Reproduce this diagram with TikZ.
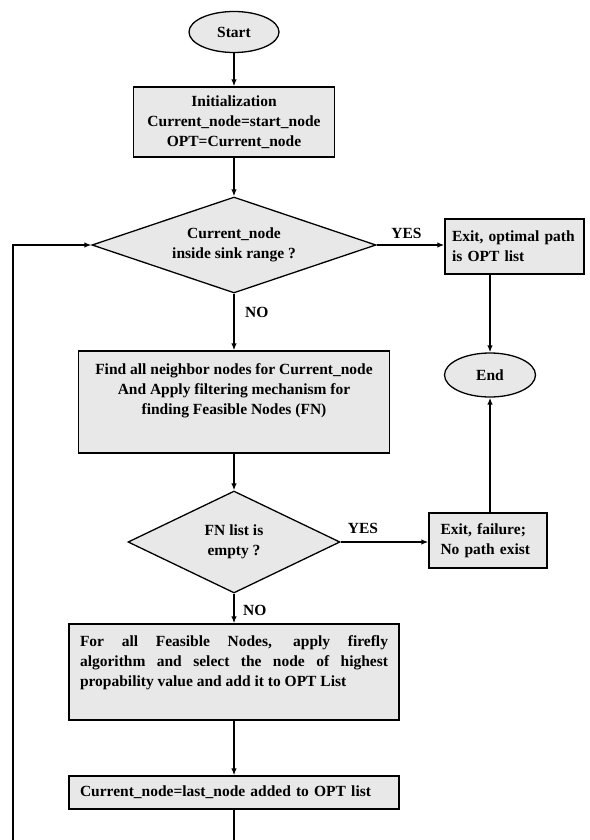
\documentclass[tikz,border=0pt]{standalone}
\usepackage{fontspec}
\setmainfont{Liberation Serif}
\usetikzlibrary{shapes.geometric,arrows.meta}
\definecolor{boxfill}{RGB}{232,232,232}
\begin{document}
\begin{tikzpicture}[x=1pt,y=-1pt,
  every node/.style={font=\fontsize{15.5}{20}\selectfont\bfseries, inner sep=0pt},
  flowbox/.style={draw=black, line width=1.3pt, fill=boxfill, rectangle},
  decision/.style={draw=black, line width=1.3pt, fill=boxfill, diamond},
  terminal/.style={draw=black, line width=1.3pt, fill=boxfill, ellipse},
  conn/.style={line width=1.6pt, -{Latex[length=7pt,width=5.5pt]}},
  plain/.style={line width=1.6pt}
]
\useasboundingbox (0,0) rectangle (589,840);
% nodes
\node[terminal, minimum width=90pt, minimum height=41pt] (start) at (234,32) {Start};
\node[flowbox, minimum width=201pt, minimum height=70pt, align=center] (init) at (234,122)
  {Initialization\\Current\_node=start\_node\\OPT=Current\_node};
\node[decision, aspect=2.96, minimum width=284pt, minimum height=96pt, align=center] (d1) at (234,245)
  {Current\_node\\inside sink range ?};
\node[flowbox, minimum width=139pt, minimum height=55pt, text width=125pt, align=left] (e1) at (514.5,246.5)
  {\hyphenpenalty=10000 Exit, optimal path\\is OPT list};
\node[terminal, minimum width=91pt, minimum height=44pt] (end) at (490,375) {End};
\node[flowbox, minimum width=311pt, minimum height=102pt] (b2) at (234,402) {};
\node[anchor=north, align=center] (b2t) at ([yshift=-13pt]b2.north)
  {Find all neighbor nodes for Current\_node\\And Apply filtering mechanism for\\finding Feasible Nodes (FN)};
\node[decision, aspect=2.08, minimum width=212pt, minimum height=102pt, align=center] (d2) at (234,542)
  {FN list is\\empty ?};
\node[flowbox, minimum width=118pt, minimum height=55pt, text width=95pt, align=left] (ef) at (488,540.5)
  {Exit, failure;\\No path exist};
\node[flowbox, minimum width=330pt, minimum height=96pt] (b3) at (234,672) {};
\node[anchor=north, text width=308pt, align=justify] (b3t) at ([yshift=-12.5pt]b3.north)
  {\tolerance=10000\hyphenpenalty=10000 For all Feasible Nodes, apply firefly\linebreak algorithm and select the node of highest\linebreak propability value and add it to OPT List};
\node[flowbox, minimum width=330pt, minimum height=33pt, text width=308pt, align=left] (b4) at (234,792.5)
  {Current\_node=last\_node added to OPT list};
% labels
\node (yes1) at (406.5,233) {YES};
\node[anchor=west] (no1) at (245,312) {NO};
\node (yes2) at (363,528) {YES};
\node[anchor=west] (no2) at (243,610) {NO};
% connectors
\coordinate (bot1) at (234,840);
\coordinate (bot2) at (13,840);
\draw[conn] (start) -- (init);
\draw[conn] (init) -- (d1);
\draw[conn] (d1.east) -- (d1.east -| e1.west);
\draw[conn] (end.north |- e1.south) -- (end.north);
\draw[conn] (d1.south) -- (b2.north);
\draw[conn] (b2.south) -- (d2.north);
\draw[conn] (d2.east) -- (d2.east -| ef.west);
\draw[conn] (end.south |- ef.north) -- (end.south);
\draw[conn] (d2.south) -- (b3.north);
\draw[conn] (b3.south) -- (b4.north);
\draw[plain] (b4.south) -- (bot1);
\draw[conn] (bot2) |- (d1.west);
\end{tikzpicture}
\end{document}
